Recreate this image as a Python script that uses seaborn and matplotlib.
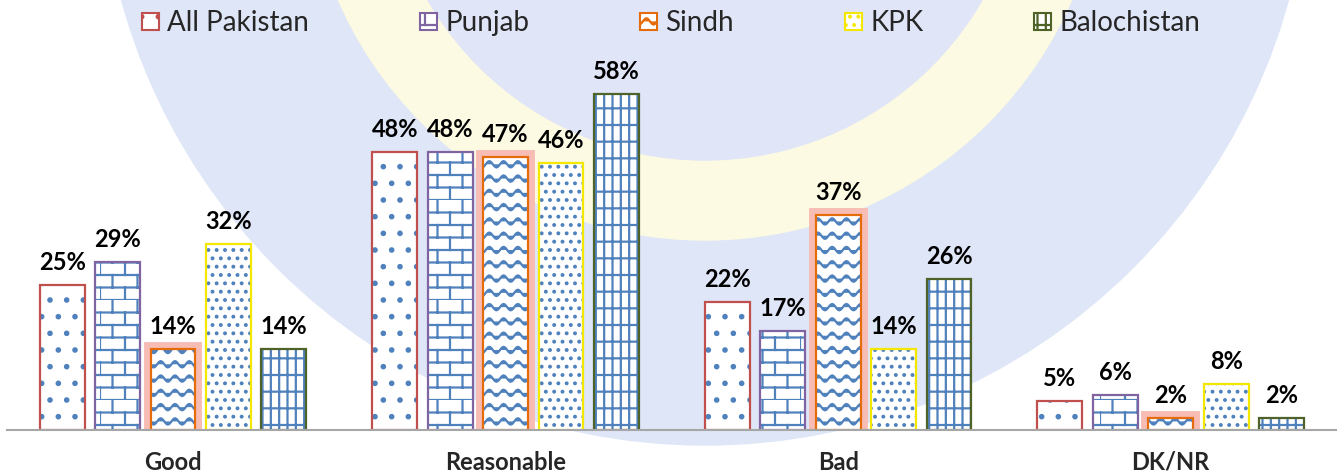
import matplotlib
matplotlib.use('Agg')
import numpy as np
import pandas as pd
import seaborn as sns
import matplotlib.pyplot as plt
import matplotlib.patheffects as pe
import matplotlib.hatch as mhatch
from matplotlib.path import Path
from matplotlib.patches import Patch, Circle

categories = ['Good', 'Reasonable', 'Bad', 'DK/NR']
regions = ['All Pakistan', 'Punjab', 'Sindh', 'KPK', 'Balochistan']
all_pakistan = [25, 48, 22, 5]
punjab = [29, 48, 17, 6]
sindh = [14, 47, 37, 2]
kpk = [32, 46, 14, 8]
balochistan = [14, 58, 26, 2]

edge_colors = ['#c0504d', '#8064a2', '#e46c0a', '#f5e800', '#4f6228']
hatches = ['.', 'b', '~', '..', '|+']
hatch_blue = '#4f81bd'


# extra hatch styles: waves ('~') and bricks ('b')
class WaveHatch(mhatch.HatchPatternBase):
    def __init__(self, hatch, density):
        self.rows = 7 * hatch.count('~')
        self.pts = 7 * 12 + 1
        self.num_vertices = self.rows * self.pts

    def set_vertices_and_codes(self, vertices, codes):
        x = np.linspace(0, 1, self.pts)
        for i in range(self.rows):
            y0 = (i + 0.5) / self.rows
            y = y0 + 0.22 / self.rows * np.sin(2 * np.pi * 7 * x)
            sl = slice(i * self.pts, (i + 1) * self.pts)
            vertices[sl, 0] = x
            vertices[sl, 1] = y
            codes[sl] = Path.LINETO
            codes[i * self.pts] = Path.MOVETO


class BrickHatch(mhatch.HatchPatternBase):
    def __init__(self, hatch, density):
        self.rows = 8 if 'b' in hatch else 0
        self.cols = 4
        self.num_vertices = self.rows * 2 + self.rows * self.cols * 2

    def set_vertices_and_codes(self, vertices, codes):
        k = 0
        for i in range(self.rows):
            y = i / self.rows
            vertices[k] = (0, y)
            vertices[k + 1] = (1, y)
            codes[k] = Path.MOVETO
            codes[k + 1] = Path.LINETO
            k += 2
            for j in range(self.cols):
                x = (j + 0.5 * (i % 2)) / self.cols
                vertices[k] = (x, y)
                vertices[k + 1] = (x, y + 1 / self.rows)
                codes[k] = Path.MOVETO
                codes[k + 1] = Path.LINETO
                k += 2


mhatch._hatch_types.extend([WaveHatch, BrickHatch])

df = pd.DataFrame({
    'category': categories * len(regions),
    'region': np.repeat(regions, len(categories)),
    'value': all_pakistan + punjab + sindh + kpk + balochistan,
})

sns.set_theme(style='white')
plt.rcParams['font.family'] = ['Lato', 'DejaVu Sans']
plt.rcParams['hatch.linewidth'] = 1.6

fig = plt.figure(figsize=(13.37, 4.75), dpi=100)
fig.patch.set_facecolor('white')

# faint watermark logo behind the chart
fig.add_artist(Circle((7.05, 6.35), 6.05, transform=fig.dpi_scale_trans,
                      color='#dfe6f7', zorder=-10))
fig.add_artist(Circle((7.05, 6.35), 4.0, transform=fig.dpi_scale_trans,
                      color='#fcfae2', zorder=-9))
fig.add_artist(Circle((7.05, 6.35), 3.2, transform=fig.dpi_scale_trans,
                      color='#e0e5f8', zorder=-8))

ax = fig.add_axes([0.005, 0.0947, 0.995, 0.779])
ax.set_facecolor('none')

# hatched fill layer
sns.barplot(data=df, x='category', y='value', hue='region',
            order=categories, hue_order=regions,
            palette={r: 'white' for r in regions},
            width=0.833, gap=0.19, linewidth=0, errorbar=None,
            legend=False, ax=ax)
for cont, h in zip(ax.containers, hatches):
    for bar in cont:
        bar.set_hatch(h)
        bar.set_edgecolor(hatch_blue)
        bar.set_linewidth(0)
for bar in ax.containers[2]:
    bar.set_path_effects([pe.Stroke(linewidth=10, foreground='#f7bdb4'), pe.Normal()])

# outline layer
sns.barplot(data=df, x='category', y='value', hue='region',
            order=categories, hue_order=regions,
            palette=edge_colors, fill=False,
            width=0.833, gap=0.19, linewidth=1.6, errorbar=None,
            legend=False, ax=ax)

for cont in ax.containers[5:]:
    ax.bar_label(cont, fmt='%d%%', padding=8, fontsize=17,
                 fontweight='bold', color='black')

ax.set_xlim(-0.5, 3.5)
ax.set_ylim(0, 63.8)
ax.set_yticks([])
ax.set_xlabel('')
ax.set_ylabel('')
sns.despine(ax=ax, left=True)
ax.spines['bottom'].set_color('#a6a6a6')
ax.spines['bottom'].set_linewidth(1.5)
ax.tick_params(axis='x', length=0, pad=15, labelsize=17)
for t in ax.get_xticklabels():
    t.set_fontweight('bold')

handles = [Patch(facecolor='white', edgecolor=c, hatch=h, linewidth=1.5)
           for c, h in zip(edge_colors, hatches)]
fig.legend(handles, regions, loc='center', bbox_to_anchor=(0.502, 0.951),
           ncol=5, frameon=False, fontsize=20, handlelength=0.6,
           handleheight=0.6, handletextpad=0.3, columnspacing=4.0)

fig.savefig('out.png', dpi=100)
